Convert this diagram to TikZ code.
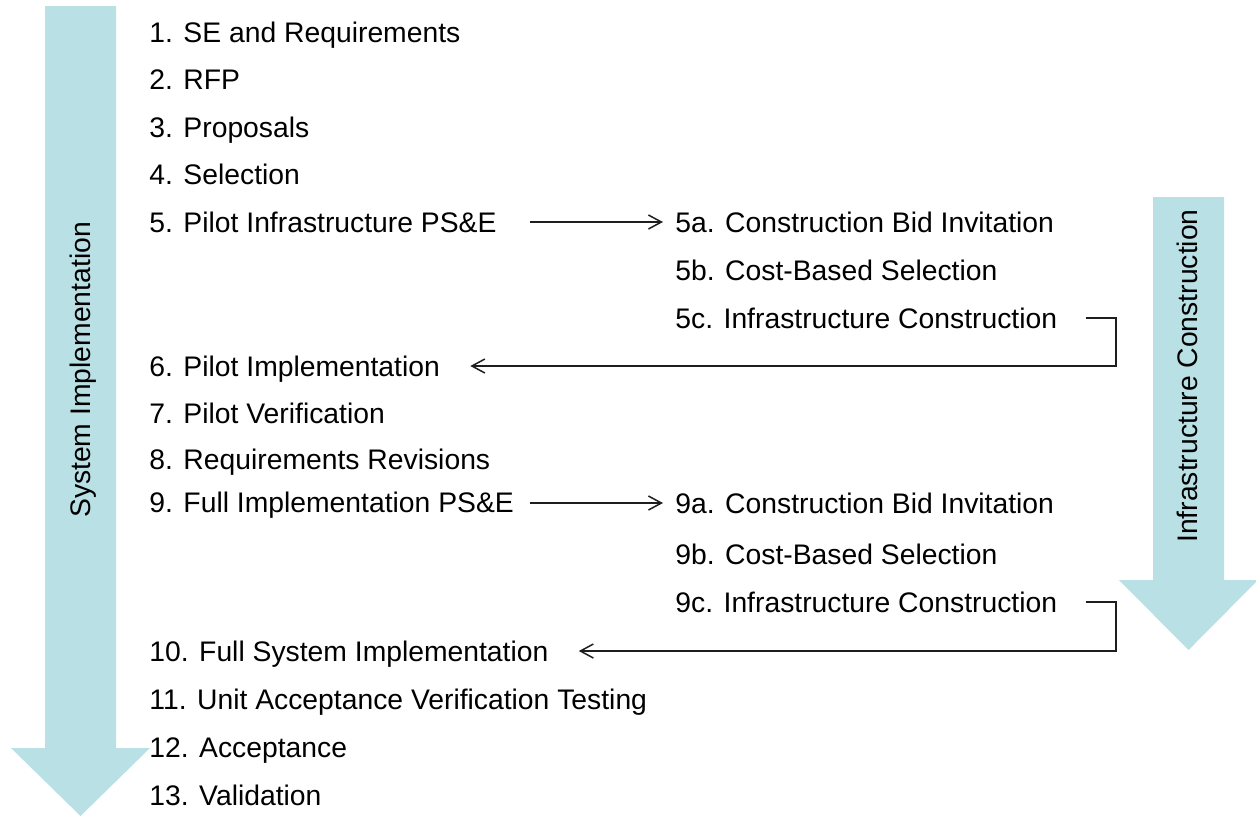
\documentclass[tikz,border=0pt]{standalone}
\usepackage{fontspec}
\setmainfont{Liberation Sans}
\usetikzlibrary{arrows.meta}
\definecolor{arrowfill}{RGB}{185,224,228}
\definecolor{linec}{RGB}{30,30,30}
\begin{document}
\begin{tikzpicture}[x=0.5pt,y=-0.5pt,
  item/.style={anchor=west,inner sep=0pt,text height=10pt,text depth=0pt,font=\fontsize{14.15pt}{17pt}\selectfont},
  vlabel/.style={rotate=90,inner sep=0pt,font=\fontsize{14.15pt}{17pt}\selectfont},
  conn/.style={draw=linec,line width=0.75pt,-{Straight Barb[length=6.5pt,width=7pt,line width=0.75pt]}},
  bigarrow/.style={fill=arrowfill,draw=none}]
\useasboundingbox (0,0) rectangle (1256,816);
% big arrows
\fill[bigarrow] (45,6) -- (116,6) -- (116,748) -- (150,748) -- (80.5,816) -- (11,748) -- (45,748) -- cycle;
\fill[bigarrow] (1153,197) -- (1224,197) -- (1224,580) -- (1258,580) -- (1188.5,650) -- (1119,580) -- (1153,580) -- cycle;
\node[vlabel] (sys) at (83,370) {System Implementation};
\node[vlabel] (infra) at (1187,376) {Infrastructure Construction};
% main items
\node[item] (n1) at (149,32) {1. SE and Requirements};
\node[item] (n2) at (149,79) {2. RFP};
\node[item] (n3) at (149,127) {3. Proposals};
\node[item] (n4) at (149,174) {4. Selection};
\node[item] (n5) at (149,222) {5. Pilot Infrastructure PS\&E};
\node[item] (n6) at (149,366) {6. Pilot Implementation};
\node[item] (n7) at (149,413) {7. Pilot Verification};
\node[item] (n8) at (149,459) {8. Requirements Revisions};
\node[item] (n9) at (149,502) {9. Full Implementation PS\&E};
\node[item] (n10) at (149,651) {10. Full System Implementation};
\node[item] (n11) at (149,699) {11. Unit Acceptance Verification Testing};
\node[item] (n12) at (149,747) {12. Acceptance};
\node[item] (n13) at (149,795) {13. Validation};
% sub items
\node[item] (n5a) at (675,222) {5a. Construction Bid Invitation};
\node[item] (n5b) at (675,270) {5b. Cost-Based Selection};
\node[item] (n5c) at (675,318) {5c. Infrastructure Construction};
\node[item] (n9a) at (675,503) {9a. Construction Bid Invitation};
\node[item] (n9b) at (675,554) {9b. Cost-Based Selection};
\node[item] (n9c) at (675,602) {9c. Infrastructure Construction};
% connectors
\coordinate (xs) at (530,0);
\coordinate (xr) at (1116,0);
\draw[conn] (xs |- n5) -- ([xshift=-6pt]n5a.west);
\draw[conn] (xs |- n9a) -- ([xshift=-6pt]n9a.west);
\draw[conn] ([xshift=14pt]n5c.east) -| (xr |- n6) -- ([xshift=15pt]n6.east);
\draw[conn] ([xshift=14pt]n9c.east) -| (xr |- n10) -- ([xshift=15pt]n10.east);
\end{tikzpicture}
\end{document}
